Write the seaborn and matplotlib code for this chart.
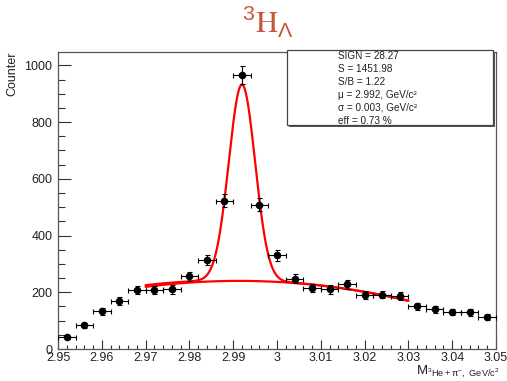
import numpy as np
import pandas as pd
import matplotlib
matplotlib.use("Agg")
import matplotlib.pyplot as plt
from matplotlib.patches import Rectangle
from matplotlib.ticker import MultipleLocator
import seaborn as sns

# ---- data ----
mass = [2.952, 2.956, 2.960, 2.964, 2.968, 2.972, 2.976, 2.980, 2.984, 2.988,
        2.992, 2.996, 3.000, 3.004, 3.008, 3.012, 3.016, 3.020, 3.024, 3.028,
        3.032, 3.036, 3.040, 3.044, 3.048]
counts = [41, 84, 133, 169, 207, 207, 210, 256, 313, 523,
          966, 509, 330, 248, 215, 210, 228, 190, 192, 186,
          151, 140, 131, 129, 113]
bin_half_width = 0.002

# fit parameters (gaus + pol2), fit range
fit_range = (2.97, 3.03)
gaus_amp, gaus_mu, gaus_sigma = 690.0, 2.992, 0.003
pol_x0 = 2.993
total_pol = [242.0, -290.0, -44730.0]
bkg_pol = [240.0, -162.0, -46760.0]

stats_lines = ["SIGN = 28.27", "S = 1451.98", "S/B = 1.22",
               "\u03bc = 2.992, GeV/c\u00b2", "\u03c3 = 0.003, GeV/c\u00b2",
               "eff = 0.73 %"]

# ---- style ----
sns.set_style("ticks")
plt.rcParams['font.family'] = ['Liberation Sans', 'DejaVu Sans']
plt.rcParams['mathtext.fontset'] = 'custom'
plt.rcParams['mathtext.rm'] = 'Liberation Sans'
plt.rcParams['mathtext.it'] = 'Liberation Sans'
plt.rcParams['mathtext.default'] = 'regular'

W, H = 507, 381
fig = plt.figure(figsize=(W / 100, H / 100), dpi=100)
L, R, T, B = 58, 496, 52, 349
ax = fig.add_axes([L / W, 1 - B / H, (R - L) / W, (B - T) / H])

df = pd.DataFrame({"mass": mass, "counts": counts})
df["err"] = np.sqrt(df["counts"])

ax.errorbar(df["mass"], df["counts"], xerr=bin_half_width, yerr=df["err"],
            fmt="none", ecolor="black", elinewidth=0.8, capsize=1.8,
            capthick=0.8, zorder=3)
sns.scatterplot(data=df, x="mass", y="counts", ax=ax, color="black", s=30,
                edgecolor="black", linewidth=0, zorder=4, legend=False)

xf = np.linspace(fit_range[0], fit_range[1], 400)
t = xf - pol_x0
bkg = bkg_pol[0] + bkg_pol[1] * t + bkg_pol[2] * t ** 2
tot = (total_pol[0] + total_pol[1] * t + total_pol[2] * t ** 2
       + gaus_amp * np.exp(-0.5 * ((xf - gaus_mu) / gaus_sigma) ** 2))
curves = pd.DataFrame({"x": np.concatenate([xf, xf]),
                       "y": np.concatenate([tot, bkg]),
                       "kind": ["total"] * len(xf) + ["bkg"] * len(xf)})
sns.lineplot(data=curves, x="x", y="y", units="kind", estimator=None,
             color="#ff0000", linewidth=1.6, ax=ax, zorder=2, sort=False)

ax.set_xlim(2.95, 3.05)
ax.set_ylim(0, 1047)
ax.xaxis.set_major_locator(MultipleLocator(0.01))
ax.xaxis.set_minor_locator(MultipleLocator(0.002))
ax.yaxis.set_major_locator(MultipleLocator(200))
ax.yaxis.set_minor_locator(MultipleLocator(50))
ax.set_xticks(np.arange(2.95, 3.0501, 0.01))
ax.set_xticklabels(["2.95", "2.96", "2.97", "2.98", "2.99", "3", "3.01",
                    "3.02", "3.03", "3.04", "3.05"])
ax.tick_params(axis="x", which="major", direction="in", length=6.5, width=0.8,
               labelsize=9, pad=2, color="#333333", labelcolor="#222222")
ax.tick_params(axis="x", which="minor", direction="in", length=3.2, width=0.8,
               color="#333333")
ax.tick_params(axis="y", which="major", direction="in", length=9.4, width=0.8,
               labelsize=9, pad=4, color="#333333", labelcolor="#222222")
ax.tick_params(axis="y", which="minor", direction="in", length=4.7, width=0.8,
               color="#333333")
for s in ax.spines.values():
    s.set_visible(True)
    s.set_linewidth(0.9)
    s.set_color("#555555")

ax.set_xlabel(r"M$_{^{3}He+\pi^{-},\ GeV/c^{2}}$", fontsize=9.5, loc="right",
              color="#222222", va="baseline")
ax.xaxis.set_label_coords((500 - L) / (R - L), -(374.5 - B) / (B - T))
ax.set_ylabel("Counter", fontsize=9, loc="top", color="#222222")
ax.yaxis.set_label_coords(-(L - 18) / (R - L), 1.0)

fig.text(268 / W, 1 - 22 / H, r"$^{3}\mathrm{H}_{\Lambda}$", fontsize=22,
         color="#c4573a", ha="center", va="center", math_fontfamily="stix")

# stats box with shadow
bx0, by0, bx1, by1 = 287, 50, 493, 125
fig.patches.append(Rectangle(((bx0 + 2) / W, 1 - (by1 + 2) / H),
                             (bx1 - bx0) / W, (by1 - by0) / H,
                             transform=fig.transFigure, facecolor="#555555",
                             edgecolor="none", zorder=9))
fig.patches.append(Rectangle((bx0 / W, 1 - by1 / H), (bx1 - bx0) / W,
                             (by1 - by0) / H, transform=fig.transFigure,
                             facecolor="white", edgecolor="#444444",
                             linewidth=0.9, zorder=10))
for i, line in enumerate(stats_lines):
    fig.text(338 / W, 1 - (56 + 13 * i) / H, line, fontsize=7.2,
             color="#222222", ha="left", va="center", zorder=11)

fig.savefig("out.png", dpi=100)
